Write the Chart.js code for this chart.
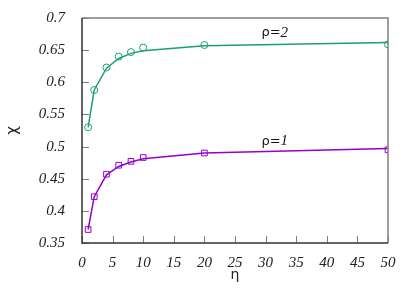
<!DOCTYPE html>
<html>
<head>
<meta charset="utf-8">
<script src="https://cdn.jsdelivr.net/npm/chart.js"></script>
<style>
  html, body { margin: 0; padding: 0; background: #fff; }
  #wrap { width: 415px; height: 291px; }
</style>
</head>
<body>
<div id="wrap"><canvas id="myChart"></canvas></div>
<script>
// eta values
const etaValues = [1, 2, 4, 6, 8, 10, 20, 50];
// measured chi, rho=2 (circles) and its fit curve
const chiRho2 = [0.530, 0.588, 0.623, 0.640, 0.647, 0.654, 0.658, 0.659];
const fitRho2 = [0.530, 0.588, 0.622, 0.637, 0.645, 0.649, 0.657, 0.662];
// measured chi, rho=1 (squares) and its fit curve
const chiRho1 = [0.371, 0.422, 0.457, 0.471, 0.477, 0.483, 0.490, 0.495];
const fitRho1 = [0.371, 0.422, 0.456, 0.469, 0.476, 0.481, 0.490, 0.497];

const xTicks = [0, 5, 10, 15, 20, 25, 30, 35, 40, 45, 50];
const yTicks = [0.35, 0.4, 0.45, 0.5, 0.55, 0.6, 0.65, 0.7];

const green = '#1a9e77';
const purple = '#9400d3';

function pts(xs, ys) {
  return xs.map((x, i) => ({x: x, y: ys[i]}));
}

// border box, inward ticks and the rho labels
const frame = {
  id: 'frame',
  afterDraw(chart) {
    const ctx = chart.ctx;
    const a = chart.chartArea;
    const xs = chart.scales.x, ys = chart.scales.y;
    ctx.save();
    ctx.strokeStyle = '#808080';
    ctx.lineWidth = 1;
    ctx.beginPath();
    yTicks.forEach(v => {
      const py = Math.round(ys.getPixelForValue(v)) + 0.5;
      ctx.moveTo(a.left, py); ctx.lineTo(a.left + 7, py);
    });
    xTicks.forEach(v => {
      const px = Math.round(xs.getPixelForValue(v)) + 0.5;
      ctx.moveTo(px, a.bottom); ctx.lineTo(px, a.bottom - 7);
    });
    ctx.stroke();
    ctx.lineWidth = 1.5;
    ctx.strokeStyle = '#808080';
    ctx.beginPath();
    ctx.moveTo(a.left, a.top); ctx.lineTo(a.right, a.top); ctx.lineTo(a.right, a.bottom);
    ctx.stroke();
    ctx.strokeStyle = '#333';
    ctx.beginPath();
    ctx.moveTo(a.left, a.top); ctx.lineTo(a.left, a.bottom); ctx.lineTo(a.right, a.bottom);
    ctx.stroke();

    // labels
    function label(txt, num, x, y) {
      ctx.fillStyle = '#111';
      ctx.textBaseline = 'middle';
      ctx.font = '13px "DejaVu Sans"';
      const w1 = ctx.measureText(txt).width;
      ctx.font = 'italic 15px "Liberation Serif"';
      const w2 = ctx.measureText(num).width;
      let px = xs.getPixelForValue(x) - (w1 + w2) / 2;
      const py = ys.getPixelForValue(y);
      ctx.font = '13px "DejaVu Sans"';
      ctx.textAlign = 'left';
      ctx.fillText(txt, px, py);
      ctx.font = 'italic 15px "Liberation Serif"';
      ctx.fillText(num, px + w1, py);
    }
    label('ρ=', '2', 31.5, 0.677);
    label('ρ=', '1', 31.5, 0.508);
    ctx.restore();
  }
};

new Chart(document.getElementById('myChart'), {
  type: 'scatter',
  data: {
    datasets: [
      {
        label: 'fit rho=2',
        data: pts(etaValues, fitRho2),
        showLine: true,
        borderColor: green,
        borderWidth: 1.5,
        pointRadius: 0,
        tension: 0
      },
      {
        label: 'rho=2',
        data: pts(etaValues, chiRho2),
        showLine: false,
        pointStyle: 'circle',
        pointRadius: 3.5,
        borderWidth: 1,
        borderColor: green,
        backgroundColor: 'rgba(0,0,0,0)'
      },
      {
        label: 'fit rho=1',
        data: pts(etaValues, fitRho1),
        showLine: true,
        borderColor: purple,
        borderWidth: 1.5,
        pointRadius: 0,
        tension: 0
      },
      {
        label: 'rho=1',
        data: pts(etaValues, chiRho1),
        showLine: false,
        pointStyle: 'rect',
        pointRadius: 4,
        borderWidth: 1,
        borderColor: purple,
        backgroundColor: 'rgba(0,0,0,0)'
      }
    ]
  },
  options: {
    responsive: true,
    maintainAspectRatio: false,
    animation: false,
    layout: { padding: { top: 17, right: 27, left: 0, bottom: 7 } },
    plugins: { legend: { display: false }, tooltip: { enabled: false } },
    scales: {
      x: {
        type: 'linear',
        min: 0, max: 50,
        afterBuildTicks: s => { s.ticks = xTicks.map(v => ({value: v})); },
        afterFit: s => { s.height = 41; },
        grid: { display: false },
        border: { display: false },
        ticks: {
          padding: 3,
          color: '#222',
          font: { family: 'Liberation Serif', style: 'italic', size: 15 }
        },
        title: {
          display: true,
          text: 'η',
          color: '#222',
          padding: { top: 0, bottom: 0 },
          font: { family: 'DejaVu Sans', size: 14 }
        }
      },
      y: {
        min: 0.35, max: 0.7,
        afterBuildTicks: s => { s.ticks = yTicks.map(v => ({value: v})); },
        afterFit: s => { s.width = 82; },
        grid: { display: false },
        border: { display: false },
        ticks: {
          padding: 9,
          color: '#222',
          font: { family: 'Liberation Serif', style: 'italic', size: 15 },
          callback: v => String(Math.round(v * 100) / 100)
        },
        title: {
          display: true,
          text: 'χ',
          color: '#222',
          padding: { top: 4, bottom: 0 },
          font: { family: 'DejaVu Sans', size: 15 }
        }
      }
    }
  },
  plugins: [frame]
});
</script>
</body>
</html>
